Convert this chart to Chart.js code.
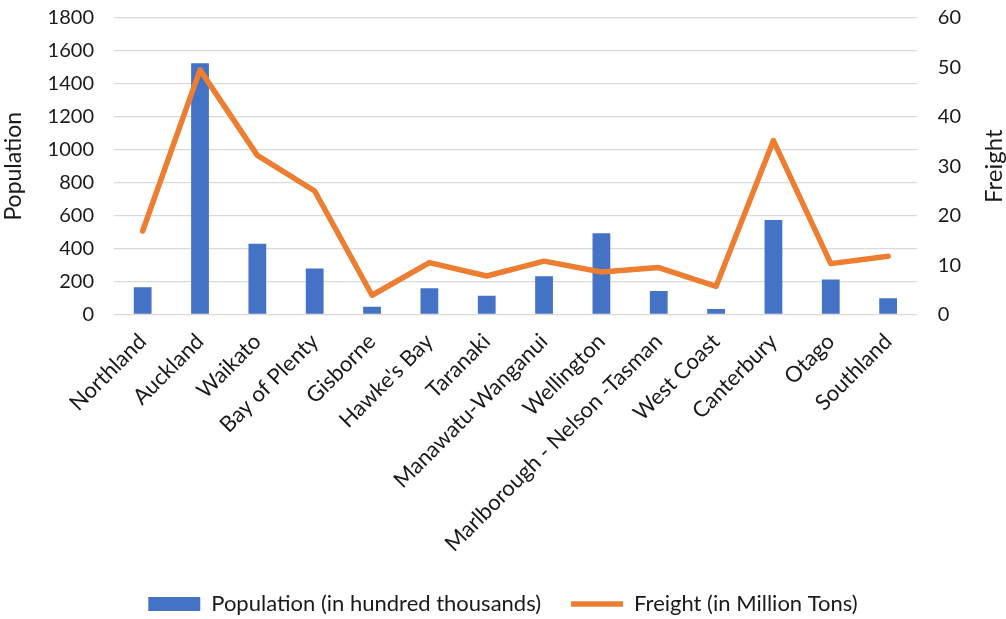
<!DOCTYPE html>
<html>
<head>
<meta charset="utf-8">
<script src="https://cdn.jsdelivr.net/npm/chart.js@4/dist/chart.umd.min.js"></script>
<style>
  html, body { margin: 0; padding: 0; background: #fff; }
  #wrap { width: 1006px; height: 619px; }
</style>
</head>
<body>
<div id="wrap"><canvas id="chart"></canvas></div>
<script>
// regions along the x axis
const regions = ['Northland', 'Auckland', 'Waikato', 'Bay of Plenty', 'Gisborne', "Hawke's Bay", 'Taranaki',
    'Manawatu-Wanganui', 'Wellington', 'Marlborough - Nelson -Tasman', 'West Coast', 'Canterbury', 'Otago', 'Southland'];

// values
const population = [165, 1525, 430, 280, 47, 159, 114, 233, 494, 143, 33, 574, 212, 98];
const freight = [16.9, 49.5, 32.2, 25.0, 3.9, 10.5, 7.8, 10.8, 8.6, 9.5, 5.7, 35.2, 10.3, 11.8];

const popTicks = [0, 1800, 200];   // min, max, step
const freightTicks = [0, 60, 10];

const font = 'Lato, "Noto Sans", sans-serif';
const textColor = '#1a1a1a';

// Excel draws the right-hand title reading upwards; Chart.js turns it the other way,
// so the built-in title is kept only to reserve space and this draws the text.
const rightTitle = {
    id: 'rightTitle',
    afterDraw(chart) {
        const s = chart.scales.y1;
        const ctx = chart.ctx;
        ctx.save();
        ctx.translate(s.right - 12, (s.top + s.bottom) / 2);
        ctx.rotate(-Math.PI / 2);
        ctx.fillStyle = textColor;
        ctx.font = '24px ' + font;
        ctx.textAlign = 'center';
        ctx.textBaseline = 'middle';
        ctx.fillText('Freight', 0, 0);
        ctx.restore();
    }
};

// tick padding also pads the top of a vertical axis; keep only the room the top label needs
function trimTop(scale) {
    scale.paddingTop = 18;
    scale.paddingBottom = 0;
}

new Chart(document.getElementById('chart'), {
    data: {
        labels: regions,
        datasets: [{
            type: 'line',
            label: 'Freight (in Million Tons)',
            data: freight,
            yAxisID: 'y1',
            borderColor: '#ED7D31',
            backgroundColor: '#ED7D31',
            borderWidth: 5.5,
            borderCapStyle: 'round',
            borderJoinStyle: 'round',
            pointRadius: 0,
            tension: 0,
            order: 0
        }, {
            type: 'bar',
            label: 'Population (in hundred thousands)',
            data: population,
            yAxisID: 'y',
            backgroundColor: '#4472C4',
            borderWidth: 0,
            categoryPercentage: 1,
            barPercentage: 0.31,
            order: 1
        }]
    },
    plugins: [rightTitle],
    options: {
        responsive: true,
        maintainAspectRatio: false,
        animation: false,
        layout: { padding: { top: 0, left: 0, right: 0, bottom: -6 } },
        plugins: {
            tooltip: { enabled: false },
            legend: {
                position: 'bottom',
                reverse: true,
                labels: {
                    usePointStyle: true,
                    pointStyleWidth: 52,
                    boxWidth: 52,
                    boxHeight: 14,
                    padding: 30,
                    color: textColor,
                    font: { family: font, size: 22 },
                    generateLabels: function(chart) {
                        const items = Chart.defaults.plugins.legend.labels.generateLabels(chart);
                        items.forEach(function(it) {
                            it.pointStyle = it.datasetIndex === 0 ? 'line' : 'rect';
                        });
                        return items;
                    }
                }
            }
        },
        scales: {
            x: {
                grid: { display: false },
                border: { display: false },
                ticks: {
                    minRotation: 45,
                    maxRotation: 45,
                    autoSkip: false,
                    padding: 6,
                    color: textColor,
                    font: { family: font, size: 22 }
                }
            },
            y: {
                position: 'left',
                min: popTicks[0],
                max: popTicks[1],
                afterFit: trimTop,
                ticks: {
                    stepSize: popTicks[2],
                    color: textColor,
                    padding: 20,
                    font: { family: font, size: 20 },
                    callback: v => String(v)
                },
                grid: { color: '#d9d9d9', lineWidth: 1.3, drawTicks: false },
                border: { display: false },
                title: { display: true, text: 'Population', color: textColor, font: { family: font, size: 23 }, padding: 0 }
            },
            y1: {
                position: 'right',
                min: freightTicks[0],
                max: freightTicks[1],
                afterFit: trimTop,
                ticks: {
                    stepSize: freightTicks[2],
                    color: textColor,
                    padding: 21,
                    font: { family: font, size: 20 },
                    callback: v => String(v)
                },
                grid: { display: false, drawTicks: false },
                border: { display: false },
                title: { display: true, text: 'Freight', color: 'rgba(0,0,0,0)', font: { family: font, size: 20 }, padding: 0 }
            }
        }
    }
});
</script>
</body>
</html>
